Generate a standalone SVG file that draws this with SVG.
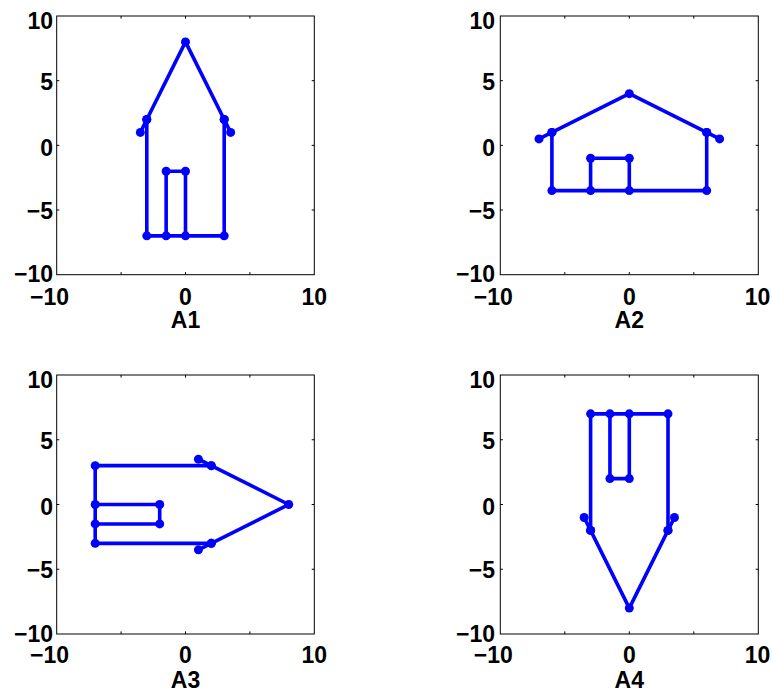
<svg xmlns="http://www.w3.org/2000/svg" width="772" height="693" viewBox="0 0 772 693">
<style>
.ax{fill:none;stroke:#000;stroke-width:1}
.ln{fill:none;stroke:#0000ff;stroke-width:3.6;stroke-linejoin:round;stroke-linecap:round;marker-start:url(#dot);marker-mid:url(#dot);marker-end:url(#dot)}
.tl{font-family:"Liberation Sans",Arial,Helvetica,sans-serif;font-weight:bold;font-size:23px;fill:#000}
.ye{text-anchor:end}
.xm{text-anchor:middle}
</style>
<defs>
<marker id="dot" markerUnits="userSpaceOnUse" markerWidth="10" markerHeight="10" refX="5" refY="5" viewBox="0 0 10 10"><circle cx="5" cy="5" r="4.5" fill="#0000ff"/></marker>
</defs>
<rect width="772" height="693" fill="#fff"/>

<g id="A1">
<rect class="ax" x="56.7" y="16" width="257.6" height="258.7"/>
<path class="ax" d="M121.1,274.7v-2.6M185.5,274.7v-2.6M249.9,274.7v-2.6M121.1,16v2.6M185.5,16v2.6M249.9,16v2.6M56.7,80.7h2.6M56.7,145.35h2.6M56.7,210h2.6M314.3,80.7h-2.6M314.3,145.35h-2.6M314.3,210h-2.6"/>
<g class="tl ye">
<text x="53" y="28.5">10</text><text x="53" y="89.5">5</text><text x="53" y="155.5">0</text><text x="53" y="218.5">−5</text><text x="53" y="282">−10</text>
</g>
<g class="tl xm">
<text x="49.5" y="304.5">−10</text><text x="185.5" y="304.5">0</text><text x="314.3" y="304.5">10</text>
<text x="185.5" y="328">A1</text>
</g>
<g id="A1-shape">
<polyline class="ln" points="140.35,132.42 146.8,119.49 185.5,41.91 224.2,119.49 230.65,132.42"/>
<polyline class="ln" points="146.8,119.49 146.8,235.86 224.2,235.86 224.2,119.49"/>
<polyline class="ln" points="166.15,235.86 166.15,171.21 185.5,171.21 185.5,235.86"/>
</g>
</g>

<g id="A2">
<rect class="ax" x="500.3" y="16" width="258" height="258.7"/>
<path class="ax" d="M564.8,274.7v-2.6M629.3,274.7v-2.6M693.8,274.7v-2.6M564.8,16v2.6M629.3,16v2.6M693.8,16v2.6M500.3,80.7h2.6M500.3,145.35h2.6M500.3,210h2.6M758.3,80.7h-2.6M758.3,145.35h-2.6M758.3,210h-2.6"/>
<g class="tl ye">
<text x="495" y="28.5">10</text><text x="495" y="89.5">5</text><text x="495" y="155.5">0</text><text x="495" y="218.5">−5</text><text x="495" y="282">−10</text>
</g>
<g class="tl xm">
<text x="493.3" y="304.5">−10</text><text x="629.3" y="304.5">0</text><text x="757.5" y="304.5">10</text>
<text x="629.3" y="328">A2</text>
</g>
<g id="A2-shape">
<polyline class="ln" points="539,138.89 551.9,132.42 629.3,93.63 706.7,132.42 719.6,138.89"/>
<polyline class="ln" points="551.9,132.42 551.9,190.61 706.7,190.61 706.7,132.42"/>
<polyline class="ln" points="590.6,190.61 590.6,158.28 629.3,158.28 629.3,190.61"/>
</g>
</g>

<g id="A3">
<rect class="ax" x="56.7" y="375" width="257.6" height="259"/>
<path class="ax" d="M121.1,634v-2.6M185.5,634v-2.6M249.9,634v-2.6M121.1,375v2.6M185.5,375v2.6M249.9,375v2.6M56.7,439.75h2.6M56.7,504.5h2.6M56.7,569.25h2.6M314.3,439.75h-2.6M314.3,504.5h-2.6M314.3,569.25h-2.6"/>
<g class="tl ye">
<text x="53" y="387.5">10</text><text x="53" y="448.5">5</text><text x="53" y="514.5">0</text><text x="53" y="577.5">−5</text><text x="53" y="641.5">−10</text>
</g>
<g class="tl xm">
<text x="49.5" y="663">−10</text><text x="185.5" y="663">0</text><text x="314.3" y="663">10</text>
<text x="185.5" y="688">A3</text>
</g>
<g id="A3-shape">
<polyline class="ln" points="198.4,459.17 211.3,465.65 288.7,504.5 211.3,543.35 198.4,549.83"/>
<polyline class="ln" points="211.3,465.65 95.2,465.65 95.2,543.35 211.3,543.35"/>
<polyline class="ln" points="95.2,504.5 159.7,504.5 159.7,523.93 95.2,523.93"/>
</g>
</g>

<g id="A4">
<rect class="ax" x="500.3" y="375" width="258" height="259"/>
<path class="ax" d="M564.8,634v-2.6M629.3,634v-2.6M693.8,634v-2.6M564.8,375v2.6M629.3,375v2.6M693.8,375v2.6M500.3,439.75h2.6M500.3,504.5h2.6M500.3,569.25h2.6M758.3,439.75h-2.6M758.3,504.5h-2.6M758.3,569.25h-2.6"/>
<g class="tl ye">
<text x="495" y="387.5">10</text><text x="495" y="448.5">5</text><text x="495" y="514.5">0</text><text x="495" y="577.5">−5</text><text x="495" y="641.5">−10</text>
</g>
<g class="tl xm">
<text x="493.3" y="663">−10</text><text x="629.3" y="663">0</text><text x="757.5" y="663">10</text>
<text x="629.3" y="688">A4</text>
</g>
<g id="A4-shape">
<polyline class="ln" points="584.15,517.45 590.6,530.4 629.3,608.1 668,530.4 674.45,517.45"/>
<polyline class="ln" points="590.6,530.4 590.6,413.85 668,413.85 668,530.4"/>
<polyline class="ln" points="609.95,413.85 609.95,478.6 629.3,478.6 629.3,413.85"/>
</g>
</g>
</svg>
